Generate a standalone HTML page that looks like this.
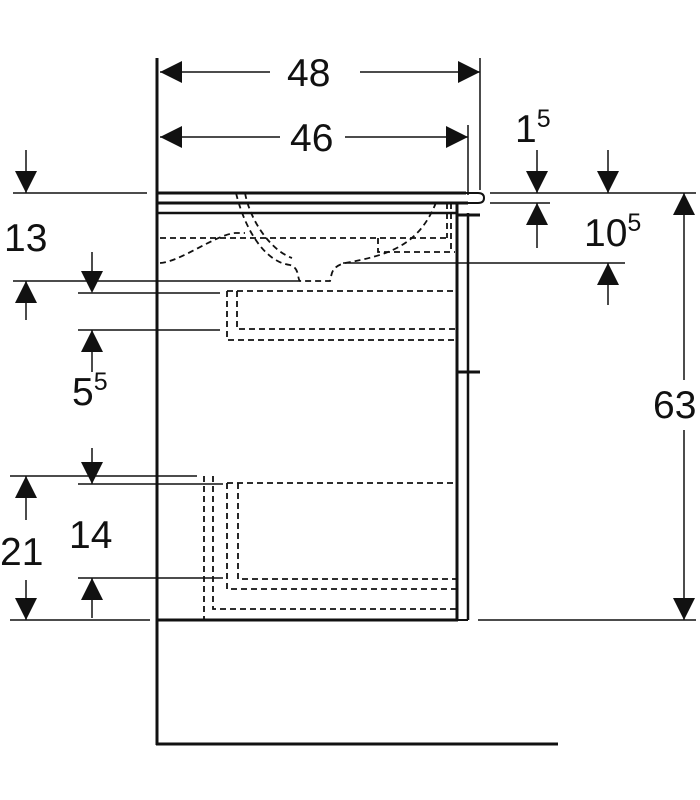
<!DOCTYPE html>
<html><head><meta charset="utf-8"><style>
html,body{margin:0;padding:0;background:#fff;}
svg{display:block;}
text{font-family:"Liberation Sans",Arial,sans-serif;fill:#111;}
</style></head><body>
<svg width="700" height="800" viewBox="0 0 700 800" xmlns="http://www.w3.org/2000/svg">
<defs>
<g id="ad"><path d="M-11,-22 L11,-22 L0,0 Z" fill="#111"/></g>
<g id="au"><path d="M-11,22 L11,22 L0,0 Z" fill="#111"/></g>
<g id="al"><path d="M22,-11 L22,11 L0,0 Z" fill="#111"/></g>
<g id="ar"><path d="M-22,-11 L-22,11 L0,0 Z" fill="#111"/></g>
</defs>
<g stroke="#111" fill="none">
<line x1="157" y1="58" x2="157" y2="745" stroke-width="3"/>
<line x1="156" y1="744" x2="558" y2="744" stroke-width="3"/>
<line x1="157" y1="193" x2="466" y2="193" stroke-width="3"/>
<path d="M466,193 H478 Q484,193 484,198 Q484,203 478,203 H468" stroke-width="2"/>
<line x1="157" y1="203" x2="468" y2="203" stroke-width="3"/>
<line x1="157" y1="213" x2="457" y2="213" stroke-width="2.5"/>
<line x1="457" y1="203" x2="457" y2="621" stroke-width="3"/>
<line x1="468" y1="213" x2="468" y2="620" stroke-width="2.5"/>
<line x1="457" y1="620" x2="468" y2="620" stroke-width="2"/>
<line x1="157" y1="620" x2="458" y2="620" stroke-width="3"/>
<path d="M458,215 H480" stroke-width="3"/>
<path d="M458,372 H480" stroke-width="3"/>
<g stroke-dasharray="6,4" stroke-width="1.8">
<path d="M160,238 H450"/>
<path d="M160,263 C180,262 215,235 235,233 H245"/>
<path d="M236,193 C245,230 265,262 290,265 C300,268 297,279 300,281 H330 C332,275 330,267 345,263 C390,255 420,245 437,200"/>
<path d="M245,193 C250,220 270,250 292,258"/>
<path d="M378,238 V252 H455"/>
<path d="M447,203 V238 M451,203 V252"/>
<path d="M227,291 V340 H457"/>
<path d="M237,291 V329 H457"/>
<path d="M227,291 H457"/>
<path d="M204,476 V620"/>
<path d="M213,476 V609 H457"/>
<path d="M227,483 V589 H457"/>
<path d="M238,483 V579 H457"/>
<path d="M227,483 H457"/>
</g>
<g stroke-width="1.5">
<line x1="480" y1="58" x2="480" y2="190"/>
<line x1="468" y1="125" x2="468" y2="195"/>
<line x1="160" y1="72" x2="270" y2="72"/><line x1="360" y1="72" x2="480" y2="72"/>
<line x1="160" y1="137" x2="280" y2="137"/><line x1="345" y1="137" x2="468" y2="137"/>
<line x1="13" y1="193" x2="147" y2="193"/>
<line x1="26" y1="150" x2="26" y2="193"/>
<line x1="13" y1="281" x2="300" y2="281"/>
<line x1="26" y1="281" x2="26" y2="320"/>
<line x1="92" y1="252" x2="92" y2="281"/>
<line x1="78" y1="293" x2="220" y2="293"/>
<line x1="78" y1="330" x2="220" y2="330"/>
<line x1="92" y1="330" x2="92" y2="372"/>
<line x1="10" y1="476" x2="197" y2="476"/>
<line x1="78" y1="484" x2="223" y2="484"/>
<line x1="92" y1="448" x2="92" y2="484"/>
<line x1="26" y1="476" x2="26" y2="520"/>
<line x1="78" y1="578" x2="223" y2="578"/>
<line x1="92" y1="578" x2="92" y2="618"/>
<line x1="10" y1="620" x2="150" y2="620"/>
<line x1="26" y1="580" x2="26" y2="620"/>
<line x1="490" y1="193" x2="696" y2="193"/>
<line x1="490" y1="203" x2="550" y2="203"/>
<line x1="537" y1="150" x2="537" y2="193"/>
<line x1="537" y1="203" x2="537" y2="248"/>
<line x1="608" y1="150" x2="608" y2="193"/>
<line x1="343" y1="263" x2="625" y2="263"/>
<line x1="608" y1="263" x2="608" y2="305"/>
<line x1="684" y1="193" x2="684" y2="380"/><line x1="684" y1="430" x2="684" y2="620"/>
<line x1="478" y1="620" x2="696" y2="620"/>
</g>
</g>
<use href="#al" x="160" y="72"/><use href="#ar" x="480" y="72"/>
<use href="#al" x="160" y="137"/><use href="#ar" x="468" y="137"/>
<use href="#ad" x="26" y="193"/><use href="#au" x="26" y="281"/>
<use href="#ad" x="92" y="293"/><use href="#au" x="92" y="330"/>
<use href="#ad" x="92" y="484"/><use href="#au" x="26" y="476"/>
<use href="#au" x="92" y="578"/><use href="#ad" x="26" y="620"/>
<use href="#ad" x="537" y="193"/><use href="#au" x="537" y="203"/>
<use href="#ad" x="608" y="193"/><use href="#au" x="608" y="263"/>
<use href="#au" x="684" y="193"/><use href="#ad" x="684" y="620"/>
<text x="287" y="86" font-size="39">48</text>
<text x="290" y="151" font-size="39">46</text>
<text x="4" y="251" font-size="39">13</text>
<text x="72" y="405" font-size="39">5<tspan font-size="25" dy="-15">5</tspan></text>
<text x="69" y="548" font-size="39">14</text>
<text x="0" y="565" font-size="39">21</text>
<text x="515" y="142" font-size="39">1<tspan font-size="25" dy="-15">5</tspan></text>
<text x="584" y="246" font-size="39">10<tspan font-size="25" dy="-15">5</tspan></text>
<text x="653" y="418" font-size="39">63</text>
</svg>
</body></html>
